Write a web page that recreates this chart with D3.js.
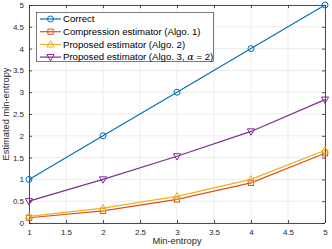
<!DOCTYPE html>
<html><head><meta charset="utf-8">
<script src="https://cdn.jsdelivr.net/npm/d3@7"></script>
<style>body{margin:0;background:#fff}svg{display:block}</style>
</head><body>
<svg id="c" width="332" height="249"></svg>
<script>
const xValues = [1, 2, 3, 4, 5];
const correct = [1, 2, 3, 4, 5];
const compression = [0.12, 0.28, 0.54, 0.92, 1.6];
const proposed2 = [0.15, 0.34, 0.61, 1.0, 1.67];
const proposed3 = [0.5, 1.0, 1.53, 2.1, 2.83];
const xTicks = [1, 1.5, 2, 2.5, 3, 3.5, 4, 4.5, 5];
const yTicks = [0, 0.5, 1, 1.5, 2, 2.5, 3, 3.5, 4, 4.5, 5];
const seriesNames = [["Correct"], ["Compression estimator (Algo. 1)"], ["Proposed estimator (Algo. 2)"], ["Proposed estimator (Algo. 3, ", "\u03B1", " = 2)"]];
const colors = ["#0072BD", "#D95319", "#EDB120", "#7E2F8E"];
const markers = ["circle", "square", "up", "down"];

const svg = d3.select("#c");
const L = 29, R = 325, T = 5, B = 223;
const x = d3.scaleLinear().domain([1, 5]).range([L, R]);
const y = d3.scaleLinear().domain([0, 5]).range([B, T]);
const font = "'Liberation Sans', Arial, sans-serif";

svg.append("g").selectAll("line").data(xTicks).join("line")
  .attr("x1", d => x(d)).attr("x2", d => x(d)).attr("y1", T).attr("y2", B)
  .attr("stroke", "#ebebeb").attr("stroke-width", 1);
svg.append("g").selectAll("line").data(yTicks).join("line")
  .attr("y1", d => y(d)).attr("y2", d => y(d)).attr("x1", L).attr("x2", R)
  .attr("stroke", "#ebebeb").attr("stroke-width", 1);

const axisColor = "#262626";
const xa = svg.append("g").attr("transform", `translate(0,${B})`)
  .call(d3.axisBottom(x).tickValues(xTicks).tickSize(-3).tickPadding(6).tickFormat(d3.format("")));
const ya = svg.append("g").attr("transform", `translate(${L},0)`)
  .call(d3.axisLeft(y).tickValues(yTicks).tickSize(-3).tickPadding(5).tickFormat(d3.format("")));
const xt = svg.append("g").attr("transform", `translate(0,${T})`)
  .call(d3.axisTop(x).tickValues(xTicks).tickSize(-3).tickFormat(""));
const yr = svg.append("g").attr("transform", `translate(${R},0)`)
  .call(d3.axisRight(y).tickValues(yTicks).tickSize(-3).tickFormat(""));
[xa, ya, xt, yr].forEach(g => {
  g.selectAll("path").attr("stroke", axisColor).attr("stroke-width", 0.8);
  g.selectAll("line").attr("stroke", axisColor).attr("stroke-width", 0.8);
  g.selectAll("text").attr("fill", axisColor).style("font-family", font).style("font-size", "8px");
});
xa.select(".domain").attr("d", `M${L},0.5H${R}`);
ya.select(".domain").attr("d", `M0.5,${B}V${T}`);
xt.select(".domain").attr("d", `M${L},0.5H${R}`);
yr.select(".domain").attr("d", `M0.5,${B}V${T}`);

svg.append("text").attr("x", (L + R) / 2).attr("y", 244).attr("text-anchor", "middle")
  .attr("fill", axisColor).style("font-family", font).style("font-size", "9.3px").text("Min-entropy");
svg.append("text").attr("transform", `translate(9,${(T + B) / 2}) rotate(-90)`).attr("text-anchor", "middle")
  .attr("fill", axisColor).style("font-family", font).style("font-size", "9.3px").text("Estimated min-entropy");

function drawMarker(g, type, cx, cy) {
  if (type === "circle") g.append("circle").attr("cx", cx).attr("cy", cy).attr("r", 3);
  else if (type === "square") g.append("rect").attr("x", cx - 2.6).attr("y", cy - 2.6).attr("width", 5.2).attr("height", 5.2);
  else if (type === "up") g.append("path").attr("d", `M${cx},${cy - 3.8}L${cx + 3.6},${cy + 2.6}L${cx - 3.6},${cy + 2.6}Z`);
  else g.append("path").attr("d", `M${cx},${cy + 3.8}L${cx + 3.6},${cy - 2.6}L${cx - 3.6},${cy - 2.6}Z`);
}

const allSeries = [correct, compression, proposed2, proposed3];
const line = d3.line().x((d, i) => x(xValues[i])).y(d => y(d));
allSeries.forEach((vals, k) => {
  svg.append("path").datum(vals).attr("d", line).attr("fill", "none")
    .attr("stroke", colors[k]).attr("stroke-width", 1.2);
  const g = svg.append("g").attr("fill", "none").attr("stroke", colors[k]).attr("stroke-width", 1);
  vals.forEach((v, i) => drawMarker(g, markers[k], x(xValues[i]), y(v)));
});

const lg = svg.append("g");
lg.append("rect").attr("x", 36.5).attr("y", 12.5).attr("width", 177).attr("height", 49)
  .attr("fill", "#fff").attr("stroke", "#262626").attr("stroke-width", 0.6);
seriesNames.forEach((parts, k) => {
  const ly = 19 + k * 12.7;
  lg.append("line").attr("x1", 40).attr("x2", 61).attr("y1", ly).attr("y2", ly)
    .attr("stroke", colors[k]).attr("stroke-width", 1.2);
  const g = lg.append("g").attr("fill", "none").attr("stroke", colors[k]).attr("stroke-width", 1);
  drawMarker(g, markers[k], 50.5, ly);
  const t = lg.append("text").attr("x", 63).attr("y", ly + 3.3).attr("fill", "#000")
    .style("font-family", font).style("font-size", "9.6px");
  parts.forEach((p, i) => {
    const ts = t.append("tspan").text(p);
    if (p === "\u03B1") ts.style("font-style", "italic").style("font-family", "'DejaVu Serif', serif");
  });
});
</script>
</body></html>
